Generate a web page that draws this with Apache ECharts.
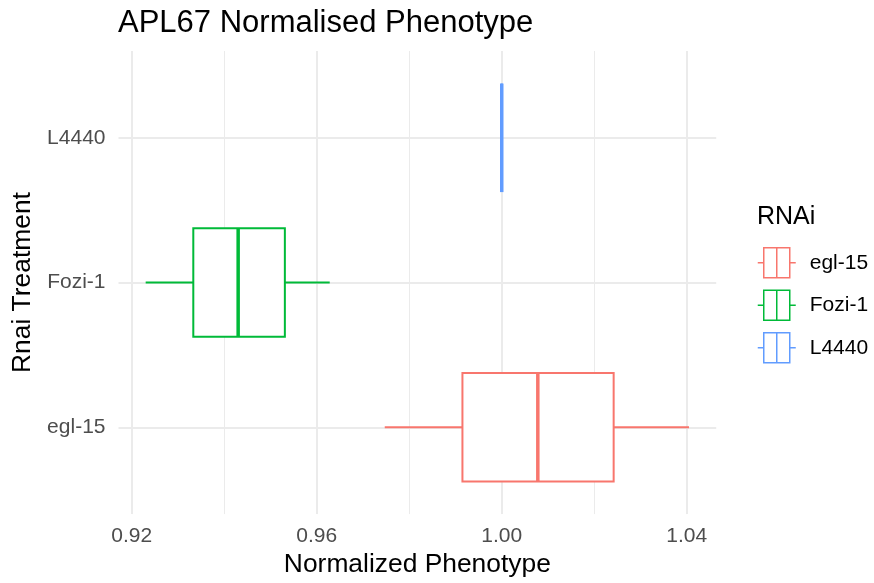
<!DOCTYPE html>
<html lang="en">
<head>
<meta charset="UTF-8">
<title>APL67 Normalised Phenotype</title>
<script src="https://cdn.jsdelivr.net/npm/echarts@6/dist/echarts.min.js"></script>
<style>
    html, body { margin: 0; padding: 0; background: #fff; }
    #main { width: 874px; height: 583px; }
</style>
</head>
<body>
<div id="main"></div>
<script>
// groups from bottom to top on the y axis
var groups = ['egl-15', 'Fozi-1', 'L4440'];
var whiskerLow = [0.9747, 0.9230, 1.0000];
var q1 = [0.9915, 0.9333, 1.0000];
var medians = [1.0078, 0.9430, 1.0000];
var q3 = [1.0242, 0.9531, 1.0000];
var whiskerHigh = [1.0405, 0.9628, 1.0000];
var colors = ['#F8766D', '#00BA38', '#619CFF'];
var xTicks = [0.92, 0.96, 1.00, 1.04];

var FONT = '"Liberation Sans", Arial, sans-serif';
var GRID = '#EBEBEB';
var NONE = 'rgba(0,0,0,0)';

// ggplot style 5% expansion of the data range
var lo = Math.min.apply(null, whiskerLow), hi = Math.max.apply(null, whiskerHigh);
var xMin = lo - (hi - lo) * 0.05;
var xMax = hi + (hi - lo) * 0.05;

// split line colours: the outer (range edge) ticks stay invisible
function edgeless(n) {
    var arr = [NONE];
    for (var i = 0; i < n; i++) arr.push(GRID);
    arr.push(NONE);
    return arr;
}

var keyIcon = 'path://M0,15H6M6,0H32V30H6ZM19,0V30M32,15H38';

function renderBox(params, api) {
    var yv = api.value(0);
    var pLo = api.coord([api.value(1), yv]);
    var pQ1 = api.coord([api.value(2), yv]);
    var pMd = api.coord([api.value(3), yv]);
    var pQ3 = api.coord([api.value(4), yv]);
    var pHi = api.coord([api.value(5), yv]);
    var half = api.size([0, 1])[1] * 0.75 / 2;
    var c = api.visual('color');
    var cy = pMd[1];
    return {
        type: 'group',
        children: [
            { type: 'line', shape: { x1: pLo[0], y1: cy, x2: pQ1[0], y2: cy }, style: { stroke: c, lineWidth: 2 } },
            { type: 'line', shape: { x1: pQ3[0], y1: cy, x2: pHi[0], y2: cy }, style: { stroke: c, lineWidth: 2 } },
            { type: 'rect', shape: { x: pQ1[0], y: cy - half, width: pQ3[0] - pQ1[0], height: half * 2 },
              style: { fill: '#fff', stroke: c, lineWidth: 2 } },
            { type: 'line', shape: { x1: pMd[0], y1: cy - half, x2: pMd[0], y2: cy + half }, style: { stroke: c, lineWidth: 3.5 } }
        ]
    };
}

var series = groups.map(function (g, i) {
    return {
        name: g,
        type: 'custom',
        renderItem: renderBox,
        itemStyle: { color: colors[i] },
        encode: { x: [1, 2, 3, 4, 5], y: 0 },
        data: [[i, whiskerLow[i], q1[i], medians[i], q3[i], whiskerHigh[i]]]
    };
});

var myChart = echarts.init(document.getElementById('main'));
var option = {
    backgroundColor: '#fff',
    animation: false,
    title: [{
        text: 'APL67 Normalised Phenotype',
        left: 118,
        top: 8,
        padding: 0,
        textStyle: { fontFamily: FONT, fontSize: 31, fontWeight: 'normal', color: '#000' }
    }, {
        text: 'RNAi',
        left: 757,
        top: 205,
        padding: 0,
        textStyle: { fontFamily: FONT, fontSize: 25, fontWeight: 'normal', color: '#000' }
    }],
    legend: {
        orient: 'vertical',
        left: 757,
        top: 247,
        padding: 0,
        itemWidth: 38,
        itemHeight: 30,
        itemGap: 11,
        selectedMode: false,
        textStyle: { fontFamily: FONT, fontSize: 21, color: '#000', padding: [0, 0, 0, 9] },
        data: groups.map(function (g, i) {
            return { name: g, icon: keyIcon, itemStyle: { color: '#fff', borderColor: colors[i], borderWidth: 1.5 } };
        })
    },
    grid: { left: 118.5, right: 157.8, top: 51, bottom: 68.5 },
    xAxis: [{
        type: 'value',
        min: xMin,
        max: xMax,
        minInterval: 0.04,
        maxInterval: 0.04,
        axisLine: { show: false },
        axisTick: { show: false },
        axisLabel: {
            margin: 12,
            fontFamily: FONT,
            fontSize: 21,
            color: '#4D4D4D',
            formatter: function (v) {
                for (var i = 0; i < xTicks.length; i++) {
                    if (Math.abs(v - xTicks[i]) < 1e-6) return xTicks[i].toFixed(2);
                }
                return '';
            }
        },
        splitLine: { lineStyle: { color: edgeless(xTicks.length), width: 2 } },
        name: 'Normalized Phenotype',
        nameLocation: 'middle',
        nameGap: 37,
        nameTextStyle: { fontFamily: FONT, fontSize: 26.4, color: '#000' }
    }, {
        // minor grid
        type: 'value',
        min: xMin,
        max: xMax,
        minInterval: 0.02,
        maxInterval: 0.02,
        position: 'top',
        axisLine: { show: false },
        axisTick: { show: false },
        axisLabel: { show: false },
        splitLine: { lineStyle: { color: edgeless(xTicks.length * 2 - 1), width: 1 } }
    }],
    yAxis: {
        type: 'value',
        min: -0.6,
        max: groups.length - 1 + 0.6,
        minInterval: 1,
        maxInterval: 1,
        axisLine: { show: false },
        axisTick: { show: false },
        axisLabel: {
            margin: 13,
            fontFamily: FONT,
            fontSize: 21,
            color: '#4D4D4D',
            formatter: function (v) {
                var r = Math.round(v);
                return (Math.abs(v - r) < 1e-6 && groups[r]) ? groups[r] : '';
            }
        },
        splitLine: { lineStyle: { color: edgeless(groups.length), width: 2 } },
        name: 'Rnai Treatment',
        nameLocation: 'middle',
        nameGap: 72,
        nameRotate: 90,
        nameTextStyle: { fontFamily: FONT, fontSize: 26.4, color: '#000' }
    },
    series: series
};
myChart.setOption(option);
window.addEventListener('resize', function () {
    myChart.resize();
});
</script>
</body>
</html>
